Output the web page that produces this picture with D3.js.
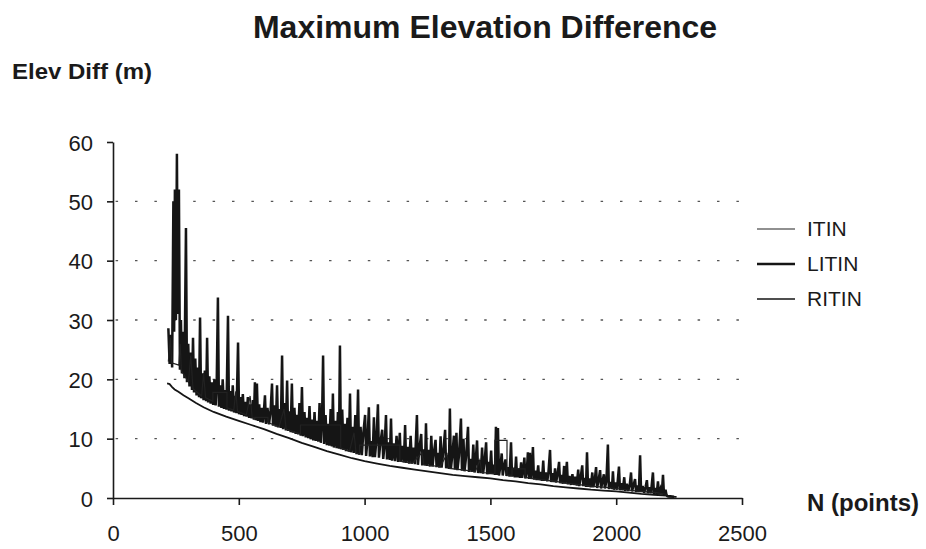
<!DOCTYPE html>
<html>
<head>
<meta charset="utf-8">
<script src="https://cdn.jsdelivr.net/npm/d3@7"></script>
<style>
  html, body { margin: 0; padding: 0; background: #fff; overflow: hidden; }
  #chart svg { display: block; }
  .axis path, .axis line { stroke: #1a1a1a; stroke-width: 1.6; }
</style>
</head>
<body>
<div id="chart"></div>
<script>
// Tick values and labels
const xTicks = [0, 500, 1000, 1500, 2000, 2500];
const yTicks = [0, 10, 20, 30, 40, 50, 60];
const gridValues = [10, 20, 30, 40, 50];
const seriesNames = ["ITIN", "LITIN", "RITIN"];

// [N points, elevation difference (m)]
const itin = [
  [220, 23], [228, 27], [233, 22.8], [262, 22.4], [267, 26], [272, 21.4], [300, 19.6], [309, 24],
  [318, 18.4], [352, 17.2], [360, 21], [368, 16.9], [397, 16.3], [397, 17.8], [453, 17.8], [453, 15.2],
  [480, 14.8], [488, 18], [495, 14.6], [530, 14.0], [545, 17.2], [553, 13.6], [564, 13.4], [564, 13.6],
  [616, 13.6], [616, 12.7], [660, 12.0], [680, 15], [688, 11.6], [720, 11.1], [745, 10.8], [745, 12.3],
  [905, 12.3], [905, 8.4], [940, 7.9], [958, 11], [966, 7.6], [980, 7.4], [980, 8.9], [1140, 8.9],
  [1140, 6.2], [1190, 5.9], [1228, 7.6], [1236, 5.6], [1300, 5.3], [1328, 7.4], [1336, 5.0], [1400, 4.7],
  [1440, 4.4], [1458, 6.4], [1466, 4.3], [1518, 4.1], [1518, 9.7], [1566, 9.7], [1566, 3.9], [1586, 3.8],
  [1586, 4.9], [1638, 4.9], [1638, 3.5], [1700, 3.1], [1760, 2.8], [1800, 2.5], [1860, 2.2], [1900, 2.0],
  [1960, 1.8], [2000, 1.6], [2060, 1.3], [2100, 1.1], [2160, 0.9], [2200, 0.6], [2210, 0.25], [2235, 0.25]
];

const litin = [
  [220, 28.6], [225, 22.6], [230, 27.5], [235, 22.0], [240, 50], [243, 28], [246, 52], [250, 30],
  [254, 58], [258, 31], [262, 52], [266, 21.6], [270, 30], [274, 21.0], [279, 28], [284, 20.2], [290, 45.5],
  [294, 19.5], [299, 26], [304, 18.8], [309, 24.5], [314, 18.2], [318, 27], [322, 17.8], [327, 23.5],
  [332, 17.3], [337, 22], [342, 17.0], [346, 30.4], [350, 16.8], [355, 21], [360, 16.5], [365, 21.5],
  [370, 16.3], [374, 27], [378, 16.1], [383, 20.5], [388, 15.9], [393, 19.5], [398, 15.7], [403, 20],
  [408, 15.6], [412, 18.8], [417, 33.8], [421, 15.4], [426, 19], [431, 15.2], [436, 20], [441, 15.0],
  [446, 18.2], [451, 14.9], [457, 30.7], [461, 14.7], [466, 18], [471, 14.6], [476, 19], [481, 14.4],
  [486, 17.2], [491, 14.3], [497, 26.2], [501, 14.1], [506, 17], [511, 14.0], [516, 17.5], [521, 13.8],
  [526, 16.2], [531, 13.7], [536, 17], [541, 13.5], [546, 15.8], [551, 13.4], [556, 16.5], [560, 13.2],
  [564, 19.5], [568, 13.1], [572, 19.3], [576, 13.0], [581, 15.8], [586, 12.8], [591, 15.2], [596, 12.7],
  [600, 14.8], [604, 17.3], [608, 12.5], [614, 15.2], [620, 12.4], [626, 14.5], [632, 19.3], [636, 12.2],
  [642, 15.6], [647, 12.0], [652, 19], [656, 11.9], [662, 15], [667, 11.8], [672, 24], [676, 11.6],
  [682, 16], [687, 11.4], [692, 19.8], [696, 11.3], [701, 14.6], [706, 11.1], [711, 19.3], [715, 11.0],
  [721, 15.2], [726, 10.8], [731, 14], [736, 10.7], [741, 16], [746, 10.5], [751, 18.7], [755, 10.4],
  [761, 14.5], [766, 10.2], [771, 13.5], [776, 10.1], [781, 15.5], [786, 9.9], [791, 13.2], [796, 9.7],
  [801, 14.5], [806, 9.6], [811, 13], [816, 9.5], [821, 16], [826, 9.3], [831, 13.5], [835, 24],
  [839, 9.1], [845, 14], [850, 8.9], [855, 12.5], [860, 8.8], [865, 15], [870, 8.7], [874, 17.6],
  [878, 8.5], [884, 13], [889, 8.4], [894, 14.5], [898, 8.3], [902, 25.7], [906, 8.2], [911, 14.9],
  [916, 8.1], [921, 12.5], [926, 7.9], [932, 13.5], [937, 7.8], [942, 17.6], [946, 7.7], [952, 12],
  [957, 7.6], [963, 14], [968, 7.4], [974, 18.3], [978, 7.3], [984, 12], [989, 7.2], [995, 11],
  [1002, 14], [1006, 7.1], [1012, 10.1], [1017, 15.3], [1021, 7.0], [1027, 9.6], [1032, 6.9], [1037, 13.6],
  [1041, 6.9], [1047, 9.8], [1053, 15.8], [1057, 6.8], [1063, 9.4], [1070, 11.5], [1074, 6.6], [1080, 9.1],
  [1085, 14], [1089, 6.5], [1095, 9.4], [1100, 6.4], [1105, 13.4], [1109, 6.3], [1115, 9.2], [1121, 6.2],
  [1127, 10.5], [1133, 6.1], [1140, 11], [1144, 6.1], [1150, 8.8], [1156, 6.0], [1161, 12.3], [1165, 5.9],
  [1171, 8.6], [1177, 5.8], [1183, 10.5], [1188, 5.8], [1194, 8.5], [1200, 5.7], [1208, 14], [1212, 5.6],
  [1218, 8.4], [1225, 10.8], [1229, 5.5], [1235, 8.2], [1240, 5.5], [1244, 12.6], [1248, 5.4], [1254, 8.1],
  [1260, 5.3], [1265, 10.5], [1270, 5.3], [1276, 7.8], [1282, 9.8], [1286, 5.2], [1292, 7.6], [1297, 5.1],
  [1302, 10.4], [1306, 5.1], [1312, 7.5], [1320, 11.5], [1324, 5.0], [1330, 7.2], [1335, 4.9], [1339, 15.1],
  [1343, 4.9], [1349, 7.4], [1355, 10.5], [1359, 4.8], [1365, 11], [1369, 4.7], [1375, 7.1], [1383, 13.4],
  [1387, 4.6], [1393, 10], [1397, 4.5], [1403, 6.8], [1411, 12], [1415, 4.4], [1421, 6.6], [1427, 4.4],
  [1432, 9], [1437, 4.3], [1442, 6.5], [1447, 9.7], [1451, 4.2], [1457, 6.4], [1462, 4.2], [1467, 8.5],
  [1471, 4.1], [1477, 6.2], [1483, 9.4], [1487, 4.0], [1493, 6.1], [1497, 4.0], [1503, 8], [1507, 4.0],
  [1513, 5.6], [1518, 3.9], [1522, 12], [1526, 3.9], [1530, 11.8], [1534, 3.8], [1540, 5.4], [1545, 7.5],
  [1549, 3.8], [1555, 5.5], [1560, 6.5], [1564, 3.7], [1570, 5.2], [1576, 3.6], [1582, 9.4], [1586, 3.6],
  [1592, 5.1], [1597, 3.5], [1602, 7], [1606, 3.5], [1612, 5], [1617, 3.4], [1622, 6], [1626, 3.4],
  [1631, 4.8], [1635, 6.8], [1639, 3.3], [1645, 4.7], [1649, 7.7], [1653, 3.2], [1657, 7.6], [1661, 3.2],
  [1665, 5], [1669, 8.6], [1673, 3.1], [1679, 4.6], [1684, 3.0], [1690, 5.5], [1694, 3.0], [1700, 4.4],
  [1705, 2.9], [1710, 6.3], [1714, 2.9], [1720, 4.3], [1726, 2.8], [1731, 4.5], [1737, 8.1], [1741, 2.7],
  [1747, 4.2], [1752, 2.7], [1757, 5], [1761, 2.6], [1767, 4.0], [1773, 6.1], [1777, 2.5], [1783, 3.9],
  [1788, 2.4], [1793, 5.4], [1797, 2.4], [1804, 6.1], [1808, 2.3], [1814, 3.7], [1820, 2.2], [1826, 4.0],
  [1831, 2.2], [1837, 3.6], [1843, 2.1], [1849, 4.8], [1853, 2.0], [1859, 3.5], [1865, 5.5], [1869, 2.0],
  [1875, 3.4], [1880, 1.9], [1884, 7.7], [1888, 1.9], [1894, 3.3], [1899, 1.8], [1905, 4.3], [1909, 1.8],
  [1915, 3.1], [1920, 5.2], [1924, 1.7], [1930, 3.0], [1936, 4.7], [1940, 1.6], [1946, 2.9], [1951, 4.0],
  [1955, 1.6], [1961, 2.8], [1967, 9.0], [1971, 1.5], [1977, 2.7], [1983, 1.5], [1987, 4.5], [1991, 1.4],
  [1997, 2.6], [2003, 1.4], [2011, 5.3], [2015, 1.3], [2021, 2.5], [2026, 1.3], [2032, 3.5], [2036, 1.2],
  [2042, 2.4], [2048, 1.2], [2054, 2.3], [2059, 4.3], [2063, 1.1], [2069, 2.2], [2075, 3.2], [2079, 1.0],
  [2085, 2.1], [2090, 1.0], [2095, 7.2], [2099, 1.0], [2105, 2.0], [2111, 0.9], [2117, 1.9], [2122, 3.0],
  [2126, 0.8], [2132, 1.8], [2138, 0.8], [2146, 4.3], [2150, 0.7], [2156, 1.7], [2161, 0.7], [2166, 2.8],
  [2170, 0.6], [2176, 1.5], [2181, 0.6], [2186, 3.9], [2190, 0.5], [2196, 1.4], [2200, 0.5], [2204, 0.3],
  [2215, 0.3], [2230, 0.2]
];

const ritin = [
  [215, 19.3], [225, 19.2], [235, 18.7], [245, 18.3], [260, 17.9], [280, 17.3], [300, 16.8], [330, 16.0],
  [360, 15.3], [400, 14.5], [450, 13.7], [500, 13.0], [550, 12.3], [600, 11.6], [650, 10.8], [700, 10.1],
  [750, 9.3], [800, 8.6], [850, 7.9], [900, 7.3], [950, 6.7], [1000, 6.2], [1050, 5.8], [1100, 5.4],
  [1150, 5.1], [1200, 4.8], [1250, 4.5], [1300, 4.2], [1350, 3.9], [1400, 3.7], [1450, 3.5], [1500, 3.3],
  [1550, 3.0], [1600, 2.8], [1650, 2.5], [1700, 2.3], [1750, 2.0], [1800, 1.8], [1850, 1.6], [1900, 1.4],
  [1950, 1.25], [2000, 1.1], [2050, 0.9], [2100, 0.7], [2150, 0.55], [2200, 0.4], [2210, 0.2], [2240, 0.2]
];

const width = 926;
const height = 549;
const margin = ({top: 142, right: 184, bottom: 51, left: 113});
const innerWidth = width - margin.left - margin.right;
const innerHeight = height - margin.top - margin.bottom;
const fontFamily = "'Liberation Sans', Arial, Helvetica, sans-serif";
const ink = "#1a1a1a";

const svg = d3.select("#chart")
  .append("svg")
  .attr("width", width)
  .attr("height", height)
  .attr("viewBox", `0 0 ${width} ${height}`);

const xScale = d3.scaleLinear().domain([0, 2500]).range([0, innerWidth]);
const yScale = d3.scaleLinear().domain([0, 60]).range([innerHeight, 0]);

const root = svg.append("g")
  .attr("transform", `translate(${margin.left}, ${margin.top})`);

// Dotted grid
root.append("g")
  .selectAll("line")
  .data(gridValues)
  .enter().append("line")
  .attr("x1", 0)
  .attr("x2", innerWidth)
  .attr("y1", d => yScale(d))
  .attr("y2", d => yScale(d))
  .attr("stroke", "#555")
  .attr("stroke-width", 1.3)
  .attr("stroke-dasharray", "2.5,16.9")
  .attr("stroke-dashoffset", 16.8);

// Lines
const line = d3.line()
  .x(d => xScale(d[0]))
  .y(d => yScale(d[1]));

const styles = {
  ITIN: {data: itin, stroke: "#222", width: 1.2},
  LITIN: {data: litin, stroke: "#151515", width: 2.5},
  RITIN: {data: ritin, stroke: "#151515", width: 1.8}
};

["LITIN", "ITIN", "RITIN"].forEach(name => {
  root.append("path")
    .datum(styles[name].data)
    .attr("fill", "none")
    .attr("stroke", styles[name].stroke)
    .attr("stroke-width", styles[name].width)
    .attr("d", line);
});

// Axes
const xAxis = root.append("g")
  .attr("class", "axis")
  .attr("transform", `translate(0, ${innerHeight})`)
  .call(d3.axisBottom(xScale).tickValues(xTicks).tickSize(7).tickSizeOuter(0).tickFormat(d => d));

const yAxis = root.append("g")
  .attr("class", "axis")
  .call(d3.axisLeft(yScale).tickValues(yTicks).tickSize(6).tickSizeOuter(0).tickFormat(d => d));

[xAxis, yAxis].forEach(axis => {
  axis.attr("font-family", fontFamily).attr("font-size", 22);
  axis.selectAll("text").attr("fill", ink).attr("dy", null);
});
// explicit baselines instead of em offsets
xAxis.selectAll("text").attr("y", 43);
yAxis.selectAll("text").attr("x", -20).attr("y", 8);

// Titles
svg.append("text")
  .attr("x", 485)
  .attr("y", 38)
  .attr("text-anchor", "middle")
  .attr("font-family", fontFamily)
  .attr("font-size", 32)
  .attr("font-weight", "bold")
  .attr("fill", ink)
  .text("Maximum Elevation Difference");

svg.append("text")
  .attr("x", 12)
  .attr("y", 79)
  .attr("textLength", 140)
  .attr("lengthAdjust", "spacingAndGlyphs")
  .attr("font-family", fontFamily)
  .attr("font-size", 22)
  .attr("font-weight", "bold")
  .attr("fill", ink)
  .text("Elev Diff (m)");

svg.append("text")
  .attr("x", 807)
  .attr("y", 511)
  .attr("textLength", 112)
  .attr("lengthAdjust", "spacingAndGlyphs")
  .attr("font-family", fontFamily)
  .attr("font-size", 23)
  .attr("font-weight", "bold")
  .attr("fill", ink)
  .text("N (points)");

// Legend
const legend = svg.append("g")
  .attr("transform", "translate(757, 229)");

seriesNames.forEach((name, i) => {
  const y = i * 35;
  legend.append("line")
    .attr("x1", 0)
    .attr("x2", 38)
    .attr("y1", y)
    .attr("y2", y)
    .attr("stroke", styles[name].stroke)
    .attr("stroke-width", name === "LITIN" ? 2.5 : (name === "RITIN" ? 1.5 : 1.2));
  legend.append("text")
    .attr("x", 50)
    .attr("y", y + 7)
    .attr("font-family", fontFamily)
    .attr("font-size", 21)
    .attr("fill", ink)
    .text(name);
});
</script>
</body>
</html>
